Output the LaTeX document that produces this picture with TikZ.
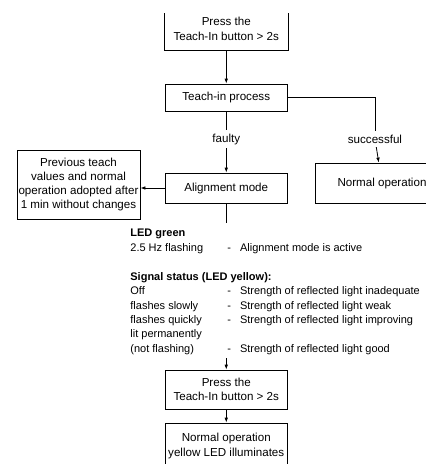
\documentclass[tikz,border=0pt]{standalone}
\usepackage{fontspec}
\setmainfont{Liberation Sans}
\usetikzlibrary{arrows.meta}
\newcommand\diagfont{\fontsize{11.6}{14.3}\selectfont}
\newcommand\blockfont{\fontsize{11}{14}\selectfont}
\begin{document}
\begin{tikzpicture}[x=1pt,y=-1pt,
  line width=0.8pt,
  >={Latex[length=5pt,width=3.6pt]},
  box/.style={draw, align=center, inner sep=0pt, font=\diagfont, minimum width=122.5pt},
  lbl/.style={inner xsep=2pt, inner ysep=3.5pt, font=\diagfont},
  txt/.style={anchor=base west, inner sep=0pt, font=\blockfont},
  btxt/.style={anchor=base west, inner sep=0pt, font=\blockfont\bfseries}]
\useasboundingbox (0,0) rectangle (426,464);
\clip (0,0) rectangle (426,464);
\fill[white] (0,0) rectangle (426,464);

% boxes
\node[box, draw=none, minimum height=42pt] (p1) at (226.25,29) {Press the\\Teach-In button > 2s};
\draw ([yshift=37pt]p1.south west) -- (p1.south west) -- (p1.south east) -- ([yshift=37pt]p1.south east);
\node[box, minimum height=27pt] (t) at (226.25,97.5) {Teach-in process};
\node[box, minimum height=30pt] (a) at (226.25,188) {Alignment mode};
\node[box, minimum width=134pt, minimum height=40pt] (n) at (382,183) {Normal operation};
\node[box, minimum width=123pt, minimum height=69pt] (b) at (78.5,184.5) {Previous teach\\values and normal\\operation adopted after\\1 min without changes};
\node[box, minimum height=39pt] (p2) at (226.25,389.5) {Press the\\Teach-In button > 2s};
\node[box, minimum height=46pt] (f) at (226.25,446) {Normal operation\\yellow LED illuminates};

% labels
\node[lbl] (fl) at (226.25,139) {faulty};
\node[lbl] (sl) at (375,139) {successful};

% connectors
\draw[->] (p1) -- (t);
\draw (t) -- (fl);
\draw[->] (fl) -- (a);
\draw (t.east) -| (sl);
\draw[->] (sl) -- (n);
\draw[->] (a.west) -- (a.west -| b.east);
\coordinate (aend) at (226.25,222.7);
\draw (a) -- (aend);
\coordinate (p2in) at (226.25,358);
\draw[->] (p2in) -- (p2);
\draw[->] (p2) -- (f);

% text block
\node[btxt] (led) at (130,236) {LED green};
\node[txt] (hz) at (130,251) {2.5 Hz flashing};
\node[txt] (hzd) at (227,251) {-\hspace{9pt}Alignment mode is active};
\node[btxt] (sig) at (130,280) {Signal status (LED yellow):};
\node[txt] (off) at (130,294) {Off};
\node[txt] (offd) at (227,294) {-\hspace{9pt}Strength of reflected light inadequate};
\node[txt] (slow) at (130,309) {flashes slowly};
\node[txt] (slowd) at (227,309) {-\hspace{9pt}Strength of reflected light weak};
\node[txt] (quick) at (130,323) {flashes quickly};
\node[txt] (quickd) at (227,323) {-\hspace{9pt}Strength of reflected light improving};
\node[txt] (lit) at (130,337) {lit permanently};
\node[txt] (notf) at (130,352) {(not flashing)};
\node[txt] (notfd) at (227,352) {-\hspace{9pt}Strength of reflected light good};
\end{tikzpicture}
\end{document}
